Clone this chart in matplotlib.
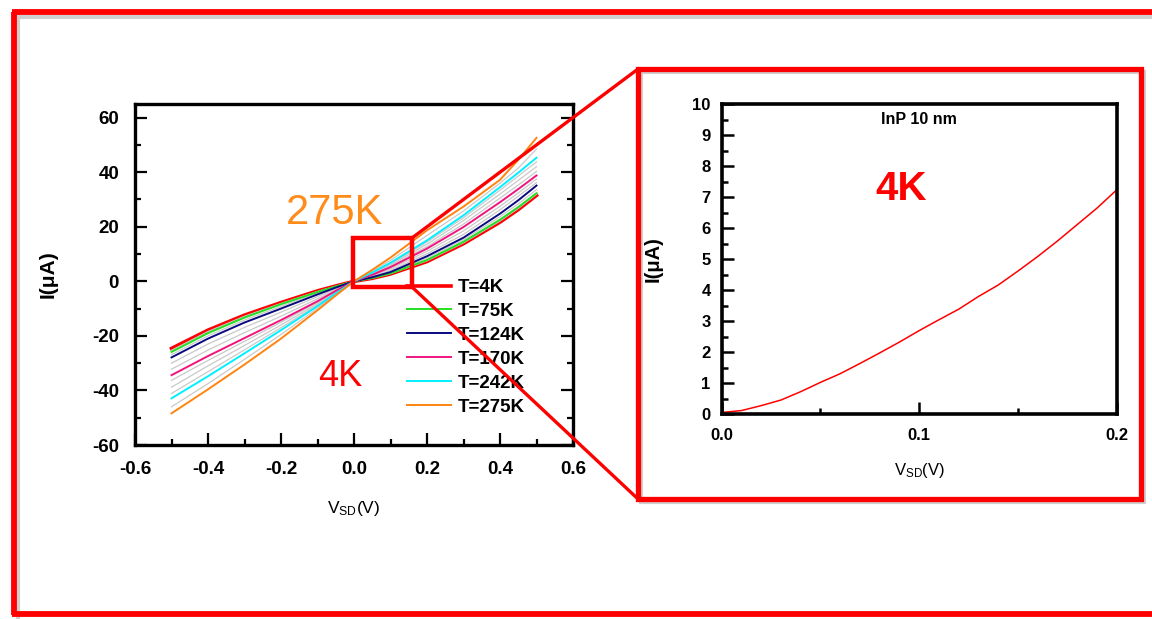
import matplotlib
matplotlib.use("Agg")
import matplotlib.pyplot as plt
from matplotlib.patches import Rectangle
from matplotlib.lines import Line2D
from matplotlib.ticker import MultipleLocator, FormatStrFormatter

plt.rcParams['font.family'] = ['Liberation Sans', 'DejaVu Sans']
plt.rcParams['axes.unicode_minus'] = False
plt.rcParams['mathtext.default'] = 'regular'

# ---------------- data ----------------
V = [-0.5, -0.4, -0.3, -0.2, -0.1, -0.05, 0.0, 0.05, 0.1, 0.2, 0.3, 0.4, 0.45, 0.5]

I_4K   = [-24.6, -17.9, -12.4, -7.8, -3.5, -1.7, 0, 1.1, 2.7, 7.25, 13.8, 21.7, 26.3, 31.5]
I_75K  = [-25.9, -19.0, -13.3, -8.4, -3.9, -1.9, 0, 1.2, 2.9, 7.8, 14.5, 22.6, 27.2, 32.3]
I_124K = [-27.9, -21.0, -15.1, -10.0, -4.8, -2.3, 0, 1.5, 3.4, 9.2, 16.0, 24.8, 29.7, 35.1]
I_170K = [-34.4, -27.4, -20.8, -14.2, -7.3, -3.5, 0, 2.4, 5.2, 12.0, 19.9, 29.0, 33.8, 38.8]
I_242K = [-42.9, -34.8, -26.4, -17.9, -9.1, -4.4, 0, 3.2, 6.8, 15.0, 24.2, 34.5, 39.8, 45.3]
I_275K = [-48.4, -39.6, -30.5, -21.0, -10.6, -5.2, 0, 4.2, 8.7, 18.7, 27.4, 37.2, 44.5, 52.6]

# unlabeled intermediate temperatures (grey)
grey_1 = [-25.3, -18.4, -12.8, -8.1, -3.7, -1.8, 0, 1.15, 2.8, 7.5, 14.1, 22.1, 26.7, 31.9]
grey_2 = [-26.9, -20.0, -14.2, -9.2, -4.3, -2.1, 0, 1.35, 3.1, 8.5, 15.2, 23.7, 28.4, 33.6]
grey_3 = [-30.0, -23.0, -16.9, -11.3, -5.6, -2.7, 0, 1.8, 4.0, 10.1, 17.2, 26.2, 31.2, 36.2]
grey_4 = [-32.2, -25.2, -18.8, -12.8, -6.4, -3.1, 0, 2.1, 4.6, 11.0, 18.5, 27.5, 32.4, 37.5]
grey_5 = [-36.3, -29.0, -22.0, -15.0, -7.7, -3.7, 0, 2.6, 5.6, 12.7, 21.0, 30.5, 35.3, 40.3]
grey_6 = [-38.8, -31.0, -23.5, -16.0, -8.2, -4.0, 0, 2.8, 6.0, 13.6, 22.3, 32.0, 37.0, 42.0]
grey_7 = [-41.1, -33.1, -25.1, -17.0, -8.7, -4.2, 0, 3.0, 6.4, 14.4, 23.3, 33.4, 38.6, 43.8]
grey_8 = [-46.0, -37.5, -28.6, -19.5, -9.9, -4.8, 0, 3.7, 7.7, 16.8, 25.8, 36.0, 41.5, 48.5]
grey_curves = [grey_1, grey_2, grey_3, grey_4, grey_5, grey_6, grey_7, grey_8]

labels = ['T=4K', 'T=75K', 'T=124K', 'T=170K', 'T=242K', 'T=275K']
colors = ['#ff0000', '#22e022', '#0a0a80', '#f0157d', '#00f0ff', '#ff8410']

# zoom: 4K curve, 0 - 0.2 V
V_zoom = [0.0, 0.01, 0.02, 0.03, 0.04, 0.05, 0.06, 0.07, 0.08, 0.09, 0.10,
          0.11, 0.12, 0.13, 0.14, 0.15, 0.16, 0.17, 0.18, 0.19, 0.20]
I_zoom = [0.06, 0.12, 0.28, 0.46, 0.73, 1.03, 1.31, 1.64, 1.98, 2.33, 2.70,
          3.05, 3.39, 3.80, 4.17, 4.62, 5.09, 5.59, 6.12, 6.65, 7.24]

# ---------------- figure ----------------
W, H = 1152, 619
fig = plt.figure(figsize=(W / 100, H / 100), dpi=100)
fig.patch.set_facecolor('white')


def px_axes(l, t, r, b):
    return fig.add_axes([l / W, 1 - b / H, (r - l) / W, (b - t) / H])


# ---- left main plot ----
ax = px_axes(135, 104, 573, 445)
ax.plot(V, I_4K, color=colors[0], lw=2.6, label=labels[0], zorder=2)
for g in grey_curves:
    ax.plot(V, g, color='#c9c9c9', lw=0.9, zorder=2)
series = [I_75K, I_124K, I_170K, I_242K, I_275K]
for s, c, lab in zip(series, colors[1:], labels[1:]):
    ax.plot(V, s, color=c, lw=1.4, label=lab, zorder=3)

ax.set_xlim(-0.6, 0.6)
ax.set_ylim(-60, 65)
ax.xaxis.set_major_locator(MultipleLocator(0.2))
ax.xaxis.set_minor_locator(MultipleLocator(0.1))
ax.xaxis.set_major_formatter(FormatStrFormatter('%.1f'))
ax.yaxis.set_major_locator(MultipleLocator(20))
ax.yaxis.set_minor_locator(MultipleLocator(10))
ax.tick_params(which='both', direction='in', top=False, right=True, width=1.6,
               labelsize=13.5)
ax.tick_params(axis='y', pad=11.5)
ax.tick_params(axis='x', pad=11.5)
ax.tick_params(which='major', length=8.5)
ax.tick_params(which='minor', length=4.5)
for lab in ax.get_xticklabels() + ax.get_yticklabels():
    lab.set_fontweight('bold')
for sp in ax.spines.values():
    sp.set_linewidth(2.4)
ax.set_ylabel('I(μA)', fontsize=15, fontweight='bold', labelpad=25)
ax.set_xlabel(r'V$_{SD}$(V)', fontsize=12.5, labelpad=15)

leg = ax.legend(loc='upper left', bbox_to_anchor=(407 / W, 1 - 279 / H),
                bbox_transform=fig.transFigure, frameon=False,
                prop=dict(size=13.5, weight='bold'), handlelength=2.35,
                handletextpad=0.35, labelspacing=0.36, borderpad=0,
                borderaxespad=0)

# ---- right zoom plot ----
ax2 = px_axes(721.7, 104.3, 1116.7, 414.3)
ax2.plot(V_zoom, I_zoom, color='#ff0000', lw=1.1)
ax2.set_xlim(0, 0.2)
ax2.set_ylim(0, 10)
ax2.xaxis.set_major_locator(MultipleLocator(0.1))
ax2.xaxis.set_minor_locator(MultipleLocator(0.05))
ax2.xaxis.set_major_formatter(FormatStrFormatter('%.1f'))
ax2.yaxis.set_major_locator(MultipleLocator(1))
ax2.yaxis.set_minor_locator(MultipleLocator(0.5))
ax2.tick_params(which='both', direction='in', top=False, right=False, width=1.8,
                labelsize=12)
ax2.tick_params(axis='y', pad=8)
ax2.tick_params(axis='x', pad=10)
ax2.tick_params(which='major', length=8.5)
ax2.tick_params(which='minor', length=4.5)
for lab in ax2.get_xticklabels() + ax2.get_yticklabels():
    lab.set_fontweight('bold')
for sp in ax2.spines.values():
    sp.set_linewidth(2.6)
ax2.set_ylabel('I(μA)', fontsize=14.5, fontweight='bold', labelpad=21)
ax2.set_xlabel(r'V$_{SD}$(V)', fontsize=12, labelpad=12.5)
ax2.text(0.5, 0.95, 'InP 10 nm', transform=ax2.transAxes, ha='center',
         va='center', fontsize=11.5, fontweight='bold')

# ---- annotations ----
fig.text(334 / W, 1 - 213 / H, '275K', color='#ff8c1a', fontsize=30,
         ha='center', va='center')
fig.text(340 / W, 1 - 376 / H, '4K', color='#ff0000', fontsize=26,
         ha='center', va='center')
fig.text(901 / W, 1 - 189 / H, '4K', color='#ff0000', fontsize=29,
         fontweight='bold', ha='center', va='center')

# ---- red frames overlay ----
ov = fig.add_axes([0, 0, 1, 1], zorder=10)
ov.set_xlim(0, W)
ov.set_ylim(H, 0)
ov.axis('off')
ov.patch.set_alpha(0)

shadow = '#cfcfcf'
# outer slide frame (shadow first)
ov.add_line(Line2D([18, 18], [16, 619], color=shadow, lw=3))
ov.add_line(Line2D([18, W], [17, 17], color=shadow, lw=3))
ov.add_line(Line2D([14, 14], [12, 615], color='#ff0000', lw=4.2, solid_capstyle='butt'))
ov.add_line(Line2D([12, W], [12, 12], color='#ff0000', lw=4.2, solid_capstyle='butt'))
ov.add_line(Line2D([12, W], [614, 614], color='#ff0000', lw=4.2, solid_capstyle='butt'))

# zoom box shadow and box
ov.add_patch(Rectangle((641, 72), 503, 430, fill=False, ec=shadow, lw=3))
ov.add_patch(Rectangle((638, 69), 503, 430, fill=False, ec='#ff0000', lw=3.8))
# small rectangle on main plot
ov.add_patch(Rectangle((353, 238), 59, 49, fill=False, ec='#ff0000', lw=3.2))
# connecting lines
ov.add_line(Line2D([412, 638], [238, 69], color='#ff0000', lw=2.4))
ov.add_line(Line2D([412, 638], [287, 499], color='#ff0000', lw=2.4))

fig.savefig('out.png', dpi=100, facecolor='white')
